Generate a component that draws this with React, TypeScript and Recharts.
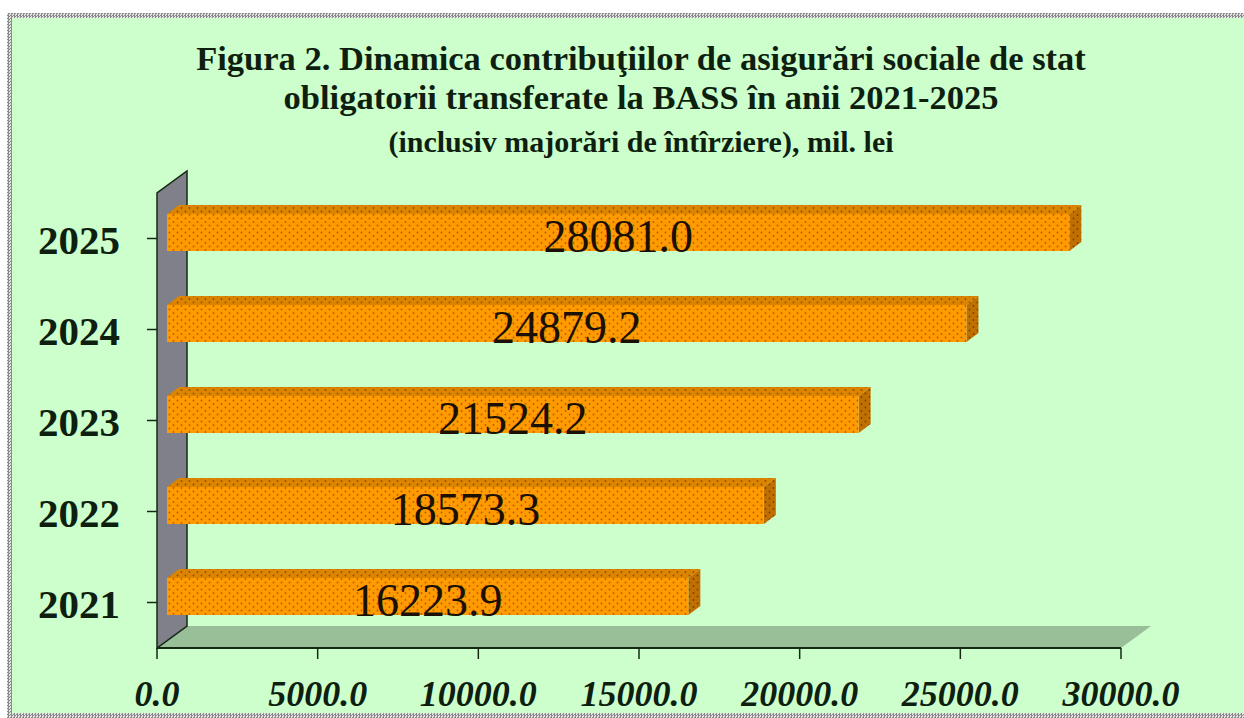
import React from 'react';
import * as R from 'recharts';

const { BarChart, Bar, XAxis, YAxis, LabelList } = R;

// Data
const years = ['2021', '2022', '2023', '2024', '2025'];
const contributions = [16223.9, 18573.3, 21524.2, 24879.2, 28081.0];
const xTicks = [0, 5000, 10000, 15000, 20000, 25000, 30000];
const titleLines = [
  'Figura 2. Dinamica contribuţiilor de asigurări sociale de stat',
  'obligatorii transferate la BASS în anii 2021-2025',
  '(inclusiv majorări de întîrziere), mil. lei',
];

const data = years.map((year, i) => ({ year, value: contributions[i] }));

const W = 1244;
const H = 718;
const MARGIN = { top: 193, right: 123, bottom: 10, left: 17 };
const Y_AXIS_W = 140;
const X_AXIS_H = 60;

// 3D look
const DEPTH_X = 30;
const DEPTH_Y = 22;
const SHIFT_X = 10;
const SHIFT_Y = -6;
const BAR_DX = 12;
const BAR_DY = 9;

const SERIF = "'Liberation Serif', 'Times New Roman', serif";
const INK = '#0f1f0f';
const AXIS = '#142814';

const fallbackArea = {
  x: MARGIN.left + Y_AXIS_W,
  y: MARGIN.top,
  width: W - MARGIN.left - Y_AXIS_W - MARGIN.right,
  height: H - MARGIN.top - MARGIN.bottom - X_AXIS_H,
};
const usePlot: () => any = (R as any).usePlotArea ?? (() => fallbackArea);

function Walls() {
  const area = usePlot() ?? fallbackArea;
  const { x, y, width, height } = area;
  const b = y + height;
  return (
    <g>
      <polygon
        points={`${x},${b} ${x + width},${b} ${x + width + DEPTH_X},${b - DEPTH_Y} ${x + DEPTH_X},${b - DEPTH_Y}`}
        fill="#98bf98"
      />
      <polygon
        points={`${x},${b} ${x},${y} ${x + DEPTH_X},${y - DEPTH_Y} ${x + DEPTH_X},${b - DEPTH_Y}`}
        fill="#80808a"
        stroke={AXIS}
        strokeWidth={1.5}
      />
    </g>
  );
}

function Bar3D(props: any) {
  const { x, y, width, height } = props;
  const fx = x + SHIFT_X;
  const fy = y + SHIFT_Y;
  const r = fx + width;
  return (
    <g>
      <polygon
        points={`${fx},${fy} ${r},${fy} ${r + BAR_DX},${fy - BAR_DY} ${fx + BAR_DX},${fy - BAR_DY}`}
        fill="url(#dotTop)"
      />
      <polygon
        points={`${r},${fy} ${r + BAR_DX},${fy - BAR_DY} ${r + BAR_DX},${fy + height - BAR_DY} ${r},${fy + height}`}
        fill="url(#dotSide)"
      />
      <rect x={fx} y={fy} width={width} height={height} fill="url(#dotFront)" />
    </g>
  );
}

function ValueLabel(props: any) {
  const { x, y, width, height, value } = props;
  return (
    <text
      x={x + SHIFT_X + width / 2}
      y={y + SHIFT_Y + height + 1}
      textAnchor="middle"
      fontFamily={SERIF}
      fontSize={46}
      fill="#1a1005"
    >
      {Number(value).toFixed(1)}
    </text>
  );
}

function XTick(props: any) {
  const { x, y, payload } = props;
  return (
    <text
      x={x}
      y={y + 45}
      textAnchor="middle"
      fontFamily={SERIF}
      fontSize={36}
      fontWeight="bold"
      fontStyle="italic"
      fill={INK}
    >
      {Number(payload.value).toFixed(1)}
    </text>
  );
}

function YTick(props: any) {
  const { x, y, payload } = props;
  return (
    <text
      x={x - 25}
      y={y + 15}
      textAnchor="end"
      fontFamily={SERIF}
      fontSize={41}
      fontWeight="bold"
      fill={INK}
    >
      {payload.value}
    </text>
  );
}

function Patterns() {
  const pat = (id: string, base: string, dot: string) => (
    <pattern id={id} width={8} height={7} patternUnits="userSpaceOnUse">
      <rect width={8} height={7} fill={base} />
      <circle cx={1.5} cy={1.5} r={0.9} fill={dot} />
      <circle cx={5.5} cy={5} r={0.9} fill={dot} />
    </pattern>
  );
  return (
    <svg width={0} height={0} style={{ position: 'absolute' }}>
      <defs>
        {pat('dotFront', '#ff9a00', '#b35f00')}
        {pat('dotTop', '#db8400', '#8f4c00')}
        {pat('dotSide', '#c07000', '#7a4000')}
      </defs>
    </svg>
  );
}

export default function App() {
  return (
    <div style={{ position: 'absolute', left: 0, top: 0, width: W, height: H, background: '#fff', overflow: 'hidden' }}>
      <Patterns />
      <div
        style={{
          position: 'absolute',
          left: 7,
          top: 13,
          width: W + 20,
          height: H - 13,
          background: 'repeating-conic-gradient(#8a8a8a 0 25%, #e4e4e4 0 50%) 0 0 / 3px 3px',
        }}
      >
        <div style={{ position: 'absolute', left: 5, top: 5, right: 5, bottom: 5, background: '#ccffcc' }} />
      </div>
      <svg width={W} height={H} style={{ position: 'absolute', left: 0, top: 0 }}>
        <text x={641} y={70} textAnchor="middle" fontFamily={SERIF} fontWeight="bold" fontSize={34.5} fill={INK}>
          {titleLines[0]}
        </text>
        <text x={641} y={109} textAnchor="middle" fontFamily={SERIF} fontWeight="bold" fontSize={34.5} fill={INK}>
          {titleLines[1]}
        </text>
        <text x={641} y={152} textAnchor="middle" fontFamily={SERIF} fontWeight="bold" fontSize={30} fill={INK}>
          {titleLines[2]}
        </text>
      </svg>
      <div style={{ position: 'absolute', left: 0, top: 0 }}>
        <BarChart width={W} height={H} data={data} layout="vertical" margin={MARGIN}>
          <Walls />
          <XAxis
            type="number"
            domain={[0, 30000]}
            ticks={xTicks}
            interval={0}
            height={X_AXIS_H}
            tickSize={11}
            axisLine={{ stroke: AXIS, strokeWidth: 2 }}
            tickLine={{ stroke: AXIS, strokeWidth: 1.5 }}
            tick={<XTick />}
          />
          <YAxis
            type="category"
            dataKey="year"
            reversed
            width={Y_AXIS_W}
            tickSize={10}
            axisLine={false}
            tickLine={{ stroke: AXIS, strokeWidth: 1.5 }}
            tick={<YTick />}
          />
          <Bar dataKey="value" barSize={37} shape={<Bar3D />} isAnimationActive={false}>
            <LabelList dataKey="value" content={<ValueLabel />} />
          </Bar>
        </BarChart>
      </div>
    </div>
  );
}
